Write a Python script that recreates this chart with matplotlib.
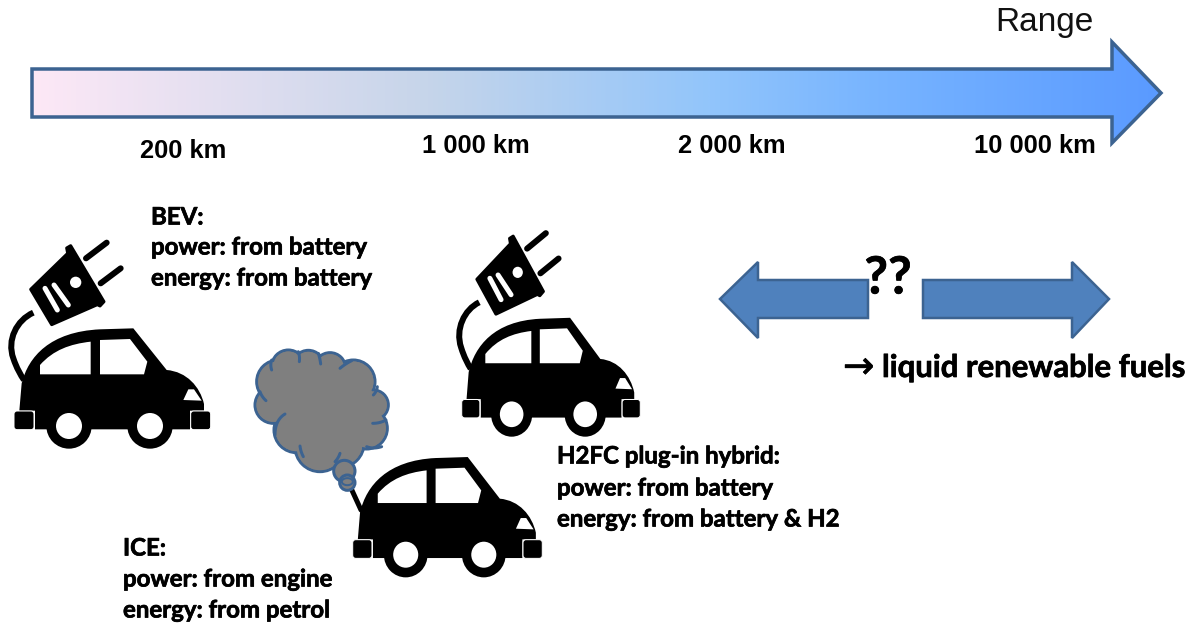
import numpy as np
import matplotlib

matplotlib.use('Agg')
import matplotlib.pyplot as plt
import matplotlib.patheffects as pe
from matplotlib.patches import Polygon, Ellipse, PathPatch, FancyBboxPatch, Circle, Arc
from matplotlib.path import Path
from matplotlib.colors import LinearSegmentedColormap

range_labels = ['200 km', '1 000 km', '2 000 km', '10 000 km']
bev_lines = ['BEV:', 'power: from battery', 'energy: from battery']
h2fc_lines = ['H2FC plug-in hybrid:', 'power: from battery', 'energy: from battery & H2']
ice_lines = ['ICE:', 'power: from engine', 'energy: from petrol']

BODY_FONT = 'Lato'
KM_FONT = 'Liberation Sans'
EDGE = '#3c6391'
# Lato Bold is a bit lighter than the original, so thicken it slightly
THICK = [pe.withStroke(linewidth=0.5, foreground='black')]

fig = plt.figure(figsize=(11.95, 6.28), dpi=100)
ax = fig.add_axes([0, 0, 1, 1])
ax.set_xlim(0, 1195)
ax.set_ylim(628, 0)
ax.axis('off')


def px(lw):
    return lw * 0.72


def draw_car(ox, oy, sx, sy, plug=True):
    # outline was traced on a 3x crop, so everything is divided by 3 here
    def tr(pts):
        pts = np.array(pts, dtype=float)
        return np.column_stack((ox + sx * pts[:, 0] / 3, oy + sy * pts[:, 1] / 3))

    def curve(pts, codes, **kw):
        ax.add_patch(PathPatch(Path(tr(pts), codes), **kw))

    M, L, C, Z = Path.MOVETO, Path.LINETO, Path.CURVE4, Path.CLOSEPOLY
    # body
    curve([(65, 550), (85, 470), (150, 395), (300, 388), (400, 385), (500, 510),
           (560, 515), (600, 560), (612, 612), (612, 632), (570, 632), (570, 688),
           (105, 688), (105, 632), (58, 632), (65, 550)],
          [M, C, C, C, L, L, C, C, C, L, L, L, L, L, L, Z], fc='black', ec='none', zorder=3)
    # wheels
    for cx in (207, 450):
        c = tr([(cx, 678)])[0]
        ax.add_patch(Ellipse(c, 2 * 68 / 3 * sx, 2 * 68 / 3 * sy, fc='black', ec='none', zorder=3))
        ax.add_patch(Ellipse(c, 2 * 39 / 3 * sx, 2 * 39 / 3 * sy, fc='white', ec='none', zorder=4))
    # bumpers
    for x0 in (42, 572):
        p = tr([(x0, 633)])[0]
        ax.add_patch(FancyBboxPatch(p + np.array([3, 3]), 60 / 3 * sx - 6, 56 / 3 * sy - 6,
                                    boxstyle='round,pad=3,rounding_size=3', fc='black',
                                    ec='white', lw=px(1), zorder=5))
    # windows
    curve([(120, 523), (120, 495), (160, 450), (210, 432), (272, 425), (272, 523), (120, 523)],
          [M, L, C, C, C, L, Z], fc='white', ec='none', zorder=4)
    ax.add_patch(Polygon(tr([(300, 523), (300, 420), (390, 417), (442, 485), (432, 523)]),
                         fc='white', ec='none', zorder=4))
    ax.add_patch(Polygon(tr([(550, 600), (565, 568), (582, 568), (605, 602)]),
                         fc='white', ec='none', zorder=4))
    if plug:
        # cable
        curve([(100, 338), (50, 360), (20, 420), (40, 475), (50, 505), (62, 525), (72, 540)],
              [M, C, C, C, C, C, C], fc='none', ec='black', lw=px(6), zorder=2)
        # plug head
        ax.add_patch(Polygon(tr([(92, 268), (203, 160), (200, 144), (212, 137), (312, 305),
                                 (300, 318), (292, 314), (155, 374)]),
                             fc='black', ec='black', lw=px(3), joinstyle='round', zorder=3))
        for a, b in [((135, 265), (172, 330)), ((162, 255), (205, 315))]:
            xy = tr([a, b])
            ax.plot(xy[:, 0], xy[:, 1], color='white', lw=px(5), solid_capstyle='round', zorder=4)
        ax.add_patch(Ellipse(tr([(227, 247)])[0], 34 / 3 * sx, 34 / 3 * sy, fc='white', ec='none', zorder=4))
        for a, b in [((258, 175), (320, 128)), ((302, 250), (362, 205))]:
            xy = tr([a, b])
            ax.plot(xy[:, 0], xy[:, 1], color='black', lw=px(6), solid_capstyle='round', zorder=3)


def draw_cloud():
    ox, oy = 240, 340
    lobes = [(145, 80, 50), (205, 78, 47), (270, 85, 47), (340, 125, 65), (400, 195, 45),
             (380, 265, 62), (300, 310, 72), (240, 320, 75), (170, 270, 68), (100, 195, 55),
             (115, 125, 65)]
    for cx, cy, r in lobes:
        ax.add_patch(Circle((ox + cx / 3, oy + cy / 3), r / 3, fc='#7f7f7f', ec=EDGE, lw=px(3), zorder=6))
    for cx, cy, r in lobes:
        ax.add_patch(Circle((ox + cx / 3, oy + cy / 3), r / 3 - 1.5, fc='#7f7f7f', ec='none', zorder=7))
    ax.add_patch(Circle((ox + 240 / 3, oy + 200 / 3), 120 / 3, fc='#7f7f7f', ec='none', zorder=7))
    ax.add_patch(Circle((ox + 310 / 3, oy + 205 / 3), 100 / 3, fc='#7f7f7f', ec='none', zorder=7))
    # short inner strokes of the cloud shape
    for a, b, c in [((175, 35), (180, 50), (178, 65)), ((235, 40), (240, 55), (242, 72)),
                    ((300, 85), (315, 72), (335, 62)), ((400, 165), (410, 155), (412, 140)),
                    ((398, 250), (420, 250), (438, 240)), ((380, 320), (400, 328), (425, 320)),
                    ((300, 340), (295, 355), (285, 365)), ((180, 318), (182, 335), (190, 350)),
                    ((135, 222), (105, 240), (105, 285)), ((60, 155), (65, 170), (78, 182)),
                    ((95, 90), (90, 75), (95, 60))]:
        t = np.linspace(0, 1, 12)[:, None]
        q = (1 - t) ** 2 * np.array(a) + 2 * t * (1 - t) * np.array(b) + t ** 2 * np.array(c)
        ax.plot(ox + q[:, 0] / 3, oy + q[:, 1] / 3, color=EDGE, lw=px(3), solid_capstyle='round', zorder=8)
    # puffs at the exhaust
    ax.add_patch(Circle((ox + 313 / 3, oy + 393 / 3), 32 / 3, fc='#7f7f7f', ec=EDGE, lw=px(3), zorder=8))
    ax.add_patch(Circle((ox + 322 / 3, oy + 428 / 3), 23 / 3, fc='#7f7f7f', ec=EDGE, lw=px(3), zorder=9))
    ax.add_patch(Arc((ox + 322 / 3, oy + 425 / 3), 11, 7, theta1=0, theta2=360, color=EDGE, lw=px(2), zorder=10))


# main range arrow with gradient fill
cmap = LinearSegmentedColormap.from_list('range', [(0, '#fde8f6'), (0.35, '#c6d5ea'), (0.6, '#92c5fb'),
                                                   (0.75, '#77b4ff'), (1, '#5a9aff')])
arrow_xy = [(32, 69), (1112, 69), (1112, 42), (1161, 93), (1112, 143), (1112, 117), (32, 117)]
arrow = Polygon(arrow_xy, closed=True, fc='none', ec=EDGE, lw=px(3.5), joinstyle='miter', zorder=2)
grad = ax.imshow(np.linspace(0, 1, 512)[None, :], cmap=cmap, extent=(32, 1161, 143, 42), aspect='auto', zorder=1)
ax.add_patch(arrow)
grad.set_clip_path(arrow)
ax.set_xlim(0, 1195)
ax.set_ylim(628, 0)

# the two blue arrows
for xy in ([(868, 280), (758, 280), (758, 262), (720, 299), (758, 338), (758, 318), (868, 318)],
           [(923, 280), (1072, 280), (1072, 262), (1109, 299), (1072, 338), (1072, 318), (923, 318)]):
    ax.add_patch(Polygon(xy, closed=True, fc='#4f81bd', ec=EDGE, lw=px(2.5), joinstyle='miter', zorder=2))

draw_car(0, 200, 1, 1)
draw_car(449, 191, 0.908, 0.988)
draw_car(339.2, 328.7, 0.964, 1, plug=False)
# exhaust pipe of the ICE car
ax.plot([350, 361], [486, 510], color='black', lw=px(5), solid_capstyle='round', zorder=3)
draw_cloud()

ax.text(1044, 23, 'Range', family=KM_FONT, fontsize=24, ha='center', va='center', color='#111111')
for x, y, s in zip([183.5, 476, 732, 1035], [151, 146, 146, 146], range_labels):
    ax.text(x, y, s, family=KM_FONT, fontsize=18.4, fontweight='bold', ha='center', va='center')

for x, ys, lines in [(151, [217, 247, 278], bev_lines), (557, [456, 488, 519], h2fc_lines),
                     (123, [548, 579, 610], ice_lines)]:
    for y, s in zip(ys, lines):
        ax.text(x, y, s, family=BODY_FONT, fontsize=17.3, fontweight='bold', ha='left', va='center',
                zorder=12, path_effects=THICK)

ax.text(888, 279, '??', family=BODY_FONT, fontsize=37, fontweight='bold', ha='center', va='center',
        zorder=12, path_effects=THICK)
ax.text(843, 368, '\u2192', family='DejaVu Sans', fontsize=27, ha='left', va='center', path_effects=THICK)
ax.text(882, 368, 'liquid renewable fuels', family=BODY_FONT, fontsize=22.4, fontweight='bold', ha='left',
        va='center', path_effects=THICK)

fig.savefig('out.png', dpi=100)
